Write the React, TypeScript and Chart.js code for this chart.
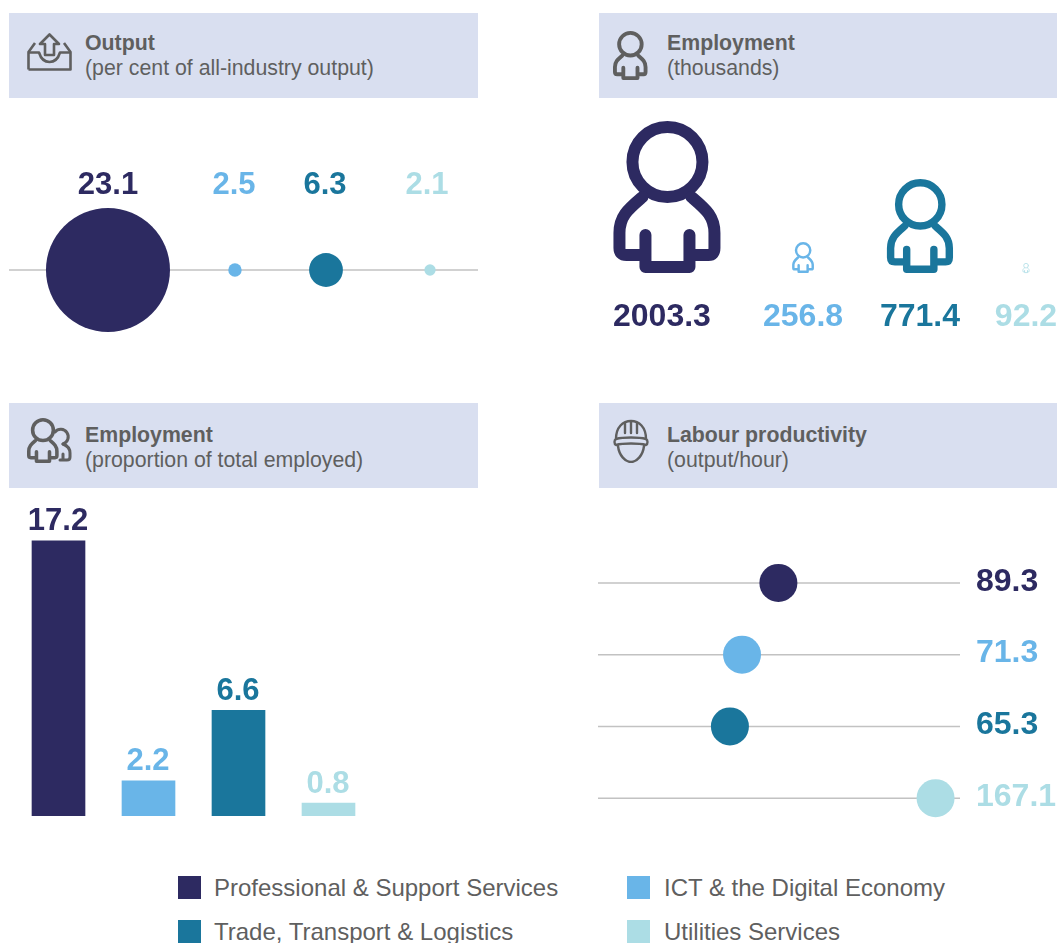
import React, { useEffect, useRef } from "react";
import { Chart, registerables } from "chart.js";

Chart.register(...registerables);

// ---------- data ----------
const categories = [
  "Professional & Support Services",
  "ICT & the Digital Economy",
  "Trade, Transport & Logistics",
  "Utilities Services",
];
const outputValues = [23.1, 2.5, 6.3, 2.1];
const outputSlots = [0, 1.183, 2.031, 3];
const employmentValues = [2003.3, 256.8, 771.4, 92.2];
const employmentIconScale = [1, 0.204, 0.618, 0.066];
const employmentSlots = [0, 1.137, 2.114, 3];
const proportionValues = [17.2, 2.2, 6.6, 0.8];
const productivityValues = [89.3, 71.3, 65.3, 167.1];

// ---------- style ----------
const COLORS = ["#2d2a61", "#69b5e8", "#1a769c", "#acdde5"];
const RULE = "#c2c2c2";
const GREY = "#5f5f5f";
const PANEL = "#d9dff0";
const FONT = '"Liberation Sans", Arial, sans-serif';

const PERSON_BODY =
  "M29 76C15 88 6 95 6 112L6 127Q6 134 13 134L32 134M32 114L32 146L76 146L76 114M76 134L95 134Q101 134 101 127L101 112C101 95 92 88 78 76";
const PERSON_W = 107;
const PERSON_H = 152;

function drawValue(ctx: CanvasRenderingContext2D, text: string, x: number, y: number, color: string, size: number, align: CanvasTextAlign = "center") {
  ctx.save();
  ctx.font = `bold ${size}px ${FONT}`;
  ctx.fillStyle = color;
  ctx.textAlign = align;
  ctx.textBaseline = "middle";
  ctx.fillText(text, x, y);
  ctx.restore();
}

function drawPerson(ctx: CanvasRenderingContext2D, cx: number, bottom: number, height: number, color: string) {
  const s = height / PERSON_H;
  ctx.save();
  ctx.translate(cx - (PERSON_W / 2) * s, bottom - height);
  ctx.scale(s, s);
  ctx.strokeStyle = color;
  ctx.lineWidth = 12;
  ctx.lineCap = "round";
  ctx.lineJoin = "round";
  ctx.beginPath();
  ctx.arc(54, 41, 35, 0, Math.PI * 2);
  ctx.stroke();
  ctx.stroke(new Path2D(PERSON_BODY));
  ctx.restore();
}

const hiddenScale = { display: false };
const base = {
  animation: false as const,
  responsive: false,
  events: [] as string[],
  plugins: { legend: { display: false }, tooltip: { enabled: false } },
};

// ---------- chart configs ----------
const OUTPUT_MIN = -0.922;
const OUTPUT_MAX = 3.447;
const outputLabelShift = [0, -1, -1, -3];
function outputConfig(): any {
  return {
    type: "bubble",
    data: {
      datasets: [
        {
          type: "bubble",
          order: 1,
          data: outputValues.map((v, i) => ({ x: outputSlots[i], y: 0, r: v * 2.684 })),
          backgroundColor: COLORS,
          borderWidth: 0,
          clip: false,
        },
        {
          type: "line",
          order: 2,
          data: [
            { x: OUTPUT_MIN, y: 0 },
            { x: OUTPUT_MAX, y: 0 },
          ],
          borderColor: RULE,
          borderWidth: 1.5,
          pointRadius: 0,
        },
      ],
    },
    options: {
      ...base,
      layout: { autoPadding: false },
      scales: {
        x: { ...hiddenScale, type: "linear", min: OUTPUT_MIN, max: OUTPUT_MAX },
        y: { ...hiddenScale, type: "linear", min: -1, max: 1 },
      },
    },
    plugins: [
      {
        id: "outputLabels",
        afterDatasetsDraw(chart: any) {
          chart.getDatasetMeta(0).data.forEach((el: any, i: number) => {
            drawValue(chart.ctx, outputValues[i].toFixed(1), el.x + outputLabelShift[i], el.y - 85, COLORS[i], 31);
          });
        },
      },
    ],
  };
}

const EMP_MIN = -0.643;
const EMP_MAX = 3.259;
const employmentLabelShift = [-5, 0, 0, 0];
function employmentConfig(): any {
  return {
    type: "bar",
    data: {
      datasets: [
        {
          data: employmentIconScale.map((v, i) => ({ x: employmentSlots[i], y: v })),
          backgroundColor: "rgba(0,0,0,0)",
          borderWidth: 0,
          barThickness: 10,
        },
      ],
    },
    options: {
      ...base,
      layout: { autoPadding: false, padding: { bottom: 67 } },
      scales: {
        x: { ...hiddenScale, type: "linear", min: EMP_MIN, max: EMP_MAX, offset: false },
        y: { ...hiddenScale, type: "linear", min: 0, max: 1 },
      },
    },
    plugins: [
      {
        id: "personGlyphs",
        afterDatasetsDraw(chart: any) {
          chart.getDatasetMeta(0).data.forEach((el: any, i: number) => {
            drawPerson(chart.ctx, el.x, el.base, el.base - el.y, COLORS[i]);
            drawValue(chart.ctx, employmentValues[i].toFixed(1), el.x + employmentLabelShift[i], el.base + 44, COLORS[i], 32);
          });
        },
      },
    ],
  };
}

function proportionConfig(): any {
  return {
    type: "bar",
    data: {
      labels: categories,
      datasets: [
        {
          data: proportionValues,
          backgroundColor: COLORS,
          borderWidth: 0,
          barThickness: 53,
        },
      ],
    },
    options: {
      ...base,
      layout: { autoPadding: false, padding: { left: 0.5, right: 0.5, bottom: 1 } },
      scales: {
        x: { ...hiddenScale, type: "category" },
        y: { ...hiddenScale, type: "linear", min: 0, max: 19.75 },
      },
    },
    plugins: [
      {
        id: "barLabels",
        afterDatasetsDraw(chart: any) {
          chart.getDatasetMeta(0).data.forEach((el: any, i: number) => {
            drawValue(chart.ctx, proportionValues[i].toFixed(1), el.x - 0.5, el.y - 19, COLORS[i], 31);
          });
        },
      },
    ],
  };
}

const PROD_MIN = 0;
const PROD_MAX = 179.2;
function productivityConfig(): any {
  const rules = categories.map((c) => ({
    type: "scatter",
    order: 2,
    showLine: true,
    data: [
      { x: PROD_MIN, y: c },
      { x: PROD_MAX, y: c },
    ],
    borderColor: RULE,
    borderWidth: 1.5,
    pointRadius: 0,
  }));
  return {
    type: "scatter",
    data: {
      datasets: [
        {
          type: "scatter",
          order: 1,
          data: productivityValues.map((v, i) => ({ x: v, y: categories[i] })),
          backgroundColor: COLORS,
          pointBackgroundColor: COLORS,
          pointBorderWidth: 0,
          pointRadius: 19,
          clip: false,
        },
        ...rules,
      ],
    },
    options: {
      ...base,
      layout: { autoPadding: false, padding: { right: 97 } },
      scales: {
        x: { ...hiddenScale, type: "linear", min: PROD_MIN, max: PROD_MAX },
        y: { ...hiddenScale, type: "category", labels: categories, offset: true },
      },
    },
    plugins: [
      {
        id: "rowLabels",
        afterDatasetsDraw(chart: any) {
          const right = chart.chartArea.right;
          chart.getDatasetMeta(0).data.forEach((el: any, i: number) => {
            drawValue(chart.ctx, productivityValues[i].toFixed(1), right + 16, el.y - 1, COLORS[i], 32, "left");
          });
        },
      },
    ],
  };
}

// ---------- components ----------
function ChartBox({ make, left, top, width, height }: { make: () => any; left: number; top: number; width: number; height: number }) {
  const ref = useRef<HTMLCanvasElement | null>(null);
  useEffect(() => {
    const chart = new Chart(ref.current as HTMLCanvasElement, make());
    return () => chart.destroy();
  }, [make]);
  return (
    <canvas
      ref={ref}
      width={width}
      height={height}
      style={{ position: "absolute", left, top, width, height, display: "block" }}
    />
  );
}

function Person({ left, top, h }: { left: number; top: number; h: number }) {
  const s = h / PERSON_H;
  return (
    <svg
      style={{ position: "absolute", left, top, overflow: "visible" }}
      width={PERSON_W * s}
      height={h}
      viewBox={`0 0 ${PERSON_W} ${PERSON_H}`}
      fill="none"
      stroke={GREY}
      strokeWidth={12}
      strokeLinecap="round"
      strokeLinejoin="round"
    >
      <circle cx={54} cy={41} r={35} />
      <path d={PERSON_BODY} />
    </svg>
  );
}

function OutputIcon() {
  return (
    <svg style={{ position: "absolute", left: 27, top: 33 }} width={45} height={38} viewBox="0 0 45 38" fill="none" stroke={GREY} strokeWidth={2.6} strokeLinejoin="round">
      <path d="M1.5 36.5H43.5V19L37 10M1.5 36.5V19L8 10" />
      <path d="M1.5 19.5H12C14 26 18 29 22.5 29C27 29 31 26 33 19.5H43.5" />
      <path d="M22.5 1.5L13 11H18V22H27V11H32Z" />
    </svg>
  );
}

function GroupIcon() {
  return (
    <>
      <Person left={27} top={418} h={45} />
      <svg style={{ position: "absolute", left: 27, top: 418 }} width={45} height={45} viewBox="0 0 45 45" fill="none" stroke={GREY} strokeWidth={3} strokeLinecap="round" strokeLinejoin="round">
        <path d="M28 14A7.5 7.5 0 1 1 36 26" />
        <path d="M36 26C41 28 43 31 43 35V39Q43 42 40 42H33M36 36V42" />
      </svg>
    </>
  );
}

function HelmetIcon() {
  return (
    <svg style={{ position: "absolute", left: 613, top: 419 }} width={36} height={44} viewBox="0 0 36 44" fill="none" stroke={GREY} strokeWidth={2.4} strokeLinecap="round" strokeLinejoin="round">
      <path d="M3 20C3 8 10 2 18 2C26 2 33 8 33 20" />
      <path d="M3 20C10 18 26 18 33 20C35 21 35 25 33 26C26 24 10 24 3 26C1 25 1 21 3 20Z" />
      <path d="M5 27C6 36 12 43 18 43C24 43 30 36 31 27" />
      <path d="M12 4V14M18 3V14M24 4V14" />
    </svg>
  );
}

function Header({ left, top, width, textLeft, title, sub, dy }: { left: number; top: number; width: number; textLeft: number; title: string; sub: string; dy: number }) {
  const line = (t: string, y: number, bold: boolean) => (
    <div
      style={{
        position: "absolute",
        left: textLeft - left,
        top: y,
        lineHeight: "26px",
        fontSize: 21.3,
        fontWeight: bold ? 700 : 400,
        color: GREY,
        whiteSpace: "nowrap",
      }}
    >
      {t}
    </div>
  );
  return (
    <div style={{ position: "absolute", left, top, width, height: 85, background: PANEL }}>
      {line(title, 17 + dy, true)}
      {line(sub, 42 + dy, false)}
    </div>
  );
}

const legendSpots = [
  { x: 178, y: 876 },
  { x: 627, y: 876 },
  { x: 178, y: 920 },
  { x: 627, y: 920 },
];

export default function App() {
  return (
    <div
      style={{
        position: "absolute",
        left: 0,
        top: 0,
        width: 1057,
        height: 943,
        overflow: "hidden",
        background: "#fff",
        fontFamily: FONT,
      }}
    >
      <Header left={9} top={13} width={469} textLeft={85} dy={0} title="Output" sub="(per cent of all-industry output)" />
      <Header left={599} top={13} width={458} textLeft={667} dy={0} title="Employment" sub="(thousands)" />
      <Header left={9} top={403} width={469} textLeft={85} dy={2} title="Employment" sub="(proportion of total employed)" />
      <Header left={599} top={403} width={458} textLeft={667} dy={2} title="Labour productivity" sub="(output/hour)" />

      <OutputIcon />
      <Person left={613} top={31} h={49} />
      <GroupIcon />
      <HelmetIcon />

      <ChartBox make={outputConfig} left={9} top={140} width={469} height={260} />
      <ChartBox make={employmentConfig} left={590} top={121} width={467} height={219} />
      <ChartBox make={proportionConfig} left={13} top={500} width={361} height={317} />
      <ChartBox make={productivityConfig} left={598} top={547} width={459} height={287} />

      {categories.map((c, i) => (
        <React.Fragment key={c}>
          <div style={{ position: "absolute", left: legendSpots[i].x, top: legendSpots[i].y, width: 23, height: 23, background: COLORS[i] }} />
          <div
            style={{
              position: "absolute",
              left: legendSpots[i].x + (i % 2 ? 37 : 36),
              top: legendSpots[i].y - 3,
              lineHeight: "30px",
              fontSize: 24,
              color: GREY,
              whiteSpace: "nowrap",
            }}
          >
            {c}
          </div>
        </React.Fragment>
      ))}
    </div>
  );
}
